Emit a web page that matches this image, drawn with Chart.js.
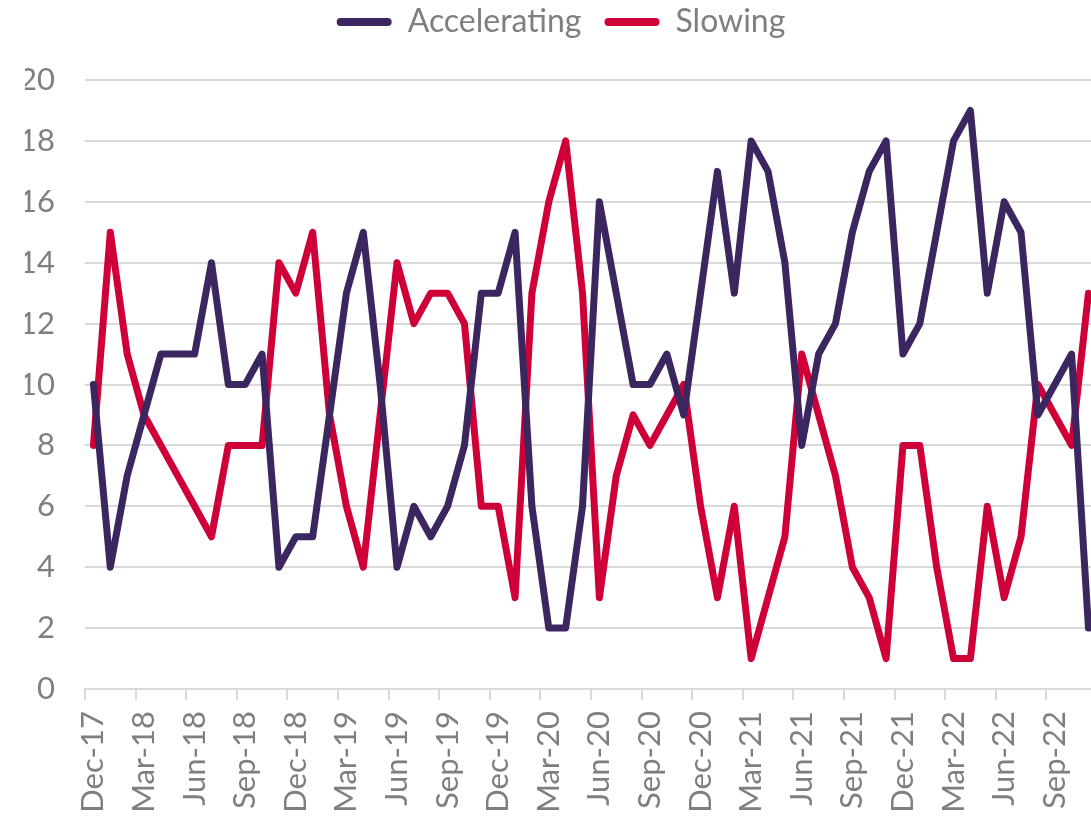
<!DOCTYPE html>
<html>
<head>
<meta charset="utf-8">
<script src="https://cdn.jsdelivr.net/npm/chart.js@4.4.1/dist/chart.umd.min.js"></script>
<style>
  html, body { margin: 0; padding: 0; background: #ffffff; overflow: hidden; width: 1091px; height: 817px; }
  #wrap { position: absolute; left: 0; top: 0; width: 1137px; height: 817px; }
</style>
</head>
<body>
<div id="wrap"><canvas id="c" width="1137" height="817"></canvas></div>
<script>
const categories = [
  'Dec-17','Jan-18','Feb-18','Mar-18','Apr-18','May-18','Jun-18','Jul-18','Aug-18','Sep-18','Oct-18','Nov-18',
  'Dec-18','Jan-19','Feb-19','Mar-19','Apr-19','May-19','Jun-19','Jul-19','Aug-19','Sep-19','Oct-19','Nov-19',
  'Dec-19','Jan-20','Feb-20','Mar-20','Apr-20','May-20','Jun-20','Jul-20','Aug-20','Sep-20','Oct-20','Nov-20',
  'Dec-20','Jan-21','Feb-21','Mar-21','Apr-21','May-21','Jun-21','Jul-21','Aug-21','Sep-21','Oct-21','Nov-21',
  'Dec-21','Jan-22','Feb-22','Mar-22','Apr-22','May-22','Jun-22','Jul-22','Aug-22','Sep-22','Oct-22','Nov-22'
];
const accelerating = [
  10, 4, 7, 9, 11, 11, 11, 14, 10, 10, 11, 4,
  5, 5, 9, 13, 15, 10, 4, 6, 5, 6, 8, 13,
  13, 15, 6, 2, 2, 6, 16, 13, 10, 10, 11, 9,
  13, 17, 13, 18, 17, 14, 8, 11, 12, 15, 17, 18,
  11, 12, 15, 18, 19, 13, 16, 15, 9, 10, 11, 2
];
const slowing = [
  8, 15, 11, 9, 8, 7, 6, 5, 8, 8, 8, 14,
  13, 15, 9, 6, 4, 9, 14, 12, 13, 13, 12, 6,
  6, 3, 13, 16, 18, 13, 3, 7, 9, 8, 9, 10,
  6, 3, 6, 1, 3, 5, 11, 9, 7, 4, 3, 1,
  8, 8, 4, 1, 1, 6, 3, 5, 10, 9, 8, 13
];
const seriesNames = ['Accelerating', 'Slowing'];
const yTicks = { min: 0, max: 20, step: 2 };

const ACC = '#3b2660';
const SLO = '#ce0037';
const TXT = '#7f7f7f';
const GRID = '#d9d9d9';
const FONT = 'Lato, "Open Sans", sans-serif';

// extra space under the legend so the plot starts where the reference does
const legendSpacer = {
  id: 'legendSpacer',
  beforeInit(chart) {
    const fit = chart.legend.fit;
    chart.legend.fit = function () {
      fit.call(this);
      this.height += 32;
    };
  }
};

new Chart(document.getElementById('c'), {
  type: 'line',
  plugins: [legendSpacer],
  data: {
    labels: categories,
    datasets: [
      { label: seriesNames[0], data: accelerating, borderColor: ACC, backgroundColor: ACC,
        borderWidth: 7, pointRadius: 0, tension: 0, borderJoinStyle: 'round', borderCapStyle: 'round' },
      { label: seriesNames[1], data: slowing, borderColor: SLO, backgroundColor: SLO,
        borderWidth: 7, pointRadius: 0, tension: 0, borderJoinStyle: 'round', borderCapStyle: 'round' }
    ]
  },
  options: {
    responsive: false,
    animation: false,
    devicePixelRatio: 1,
    layout: { padding: { left: 25, right: 40, top: -17, bottom: 0 } },
    plugins: {
      tooltip: { enabled: false },
      legend: {
        position: 'top',
        align: 'center',
        labels: {
          color: TXT,
          font: { family: FONT, size: 32 },
          boxWidth: 55,
          boxHeight: 8,
          useBorderRadius: true,
          borderRadius: 4,
          padding: 23,
          generateLabels: (chart) => Chart.defaults.plugins.legend.labels.generateLabels(chart)
            .map(l => Object.assign(l, { lineWidth: 0 }))
        }
      }
    },
    scales: {
      x: {
        type: 'category',
        offset: true,
        afterFit: (s) => { s.height = 128; },
        grid: {
          offset: true,
          drawOnChartArea: false,
          drawTicks: true,
          tickLength: 11,
          lineWidth: 2,
          color: (ctx) => (ctx.index % 3 === 0 ? GRID : 'rgba(0,0,0,0)')
        },
        border: { display: true, color: GRID, width: 2 },
        ticks: {
          autoSkip: false,
          maxRotation: 90,
          minRotation: 90,
          padding: 11,
          color: TXT,
          font: { family: FONT, size: 31 },
          callback: (v, i) => (i % 3 === 0 ? categories[i] : '')
        }
      },
      y: {
        min: yTicks.min,
        max: yTicks.max,
        afterFit: (s) => { s.width = 60; },
        grid: { color: GRID, lineWidth: 2, drawTicks: false },
        border: { display: false },
        ticks: {
          stepSize: yTicks.step,
          padding: 30,
          color: TXT,
          font: { family: FONT, size: 31 }
        }
      }
    }
  }
});
</script>
</body>
</html>
